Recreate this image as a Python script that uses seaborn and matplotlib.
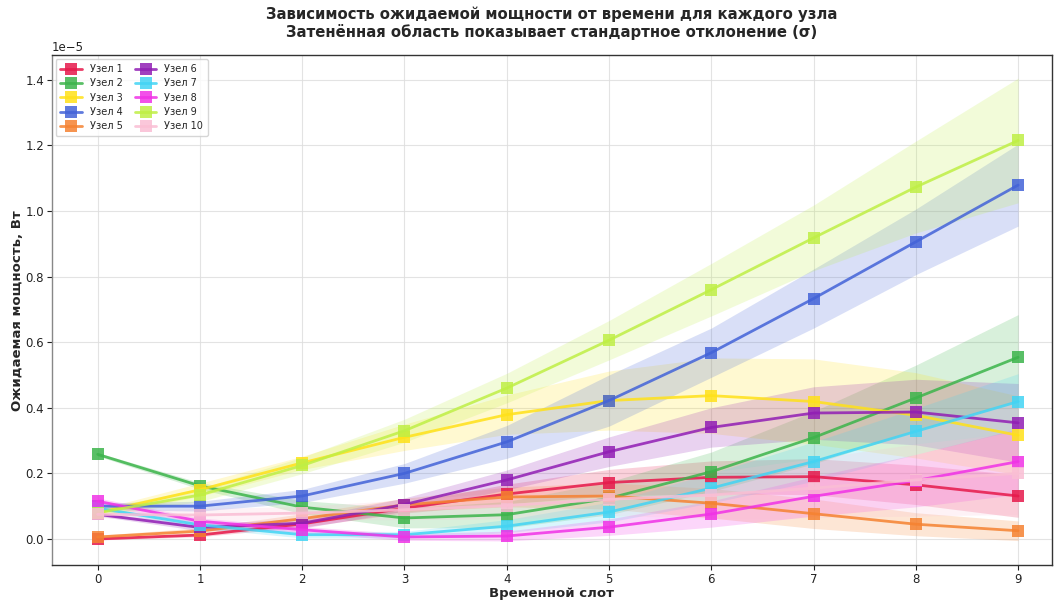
import numpy as np
import pandas as pd
import matplotlib
matplotlib.use("Agg")
import matplotlib.pyplot as plt
import seaborn as sns

# Expected power per node, in units of 1e-5 W, for time slots 0..9
slots = list(range(10))
node_names = [f"Узел {i}" for i in range(1, 11)]

mean_1 = [0.000, 0.012, 0.046, 0.094, 0.137, 0.172, 0.188, 0.190, 0.165, 0.131]
mean_2 = [0.258, 0.162, 0.097, 0.064, 0.074, 0.124, 0.205, 0.309, 0.430, 0.554]
mean_3 = [0.080, 0.150, 0.232, 0.310, 0.379, 0.422, 0.437, 0.419, 0.377, 0.316]
mean_4 = [0.100, 0.100, 0.131, 0.200, 0.296, 0.422, 0.568, 0.733, 0.906, 1.079]
mean_5 = [0.006, 0.024, 0.062, 0.104, 0.128, 0.131, 0.109, 0.077, 0.045, 0.025]
mean_6 = [0.075, 0.035, 0.048, 0.105, 0.180, 0.266, 0.340, 0.384, 0.387, 0.354]
mean_7 = [0.094, 0.043, 0.013, 0.013, 0.039, 0.082, 0.155, 0.236, 0.328, 0.419]
mean_8 = [0.115, 0.054, 0.028, 0.006, 0.009, 0.036, 0.076, 0.130, 0.178, 0.236]
mean_9 = [0.080, 0.134, 0.224, 0.330, 0.460, 0.606, 0.760, 0.918, 1.073, 1.215]
mean_10 = [0.075, 0.073, 0.079, 0.089, 0.102, 0.121, 0.134, 0.155, 0.180, 0.200]

std_1 = [0.003, 0.005, 0.010, 0.015, 0.030, 0.040, 0.050, 0.055, 0.060, 0.065]
std_2 = [0.005, 0.010, 0.020, 0.030, 0.040, 0.050, 0.060, 0.080, 0.100, 0.130]
std_3 = [0.010, 0.020, 0.020, 0.040, 0.060, 0.090, 0.115, 0.130, 0.130, 0.120]
std_4 = [0.010, 0.015, 0.020, 0.030, 0.050, 0.078, 0.075, 0.090, 0.100, 0.125]
std_5 = [0.005, 0.010, 0.015, 0.020, 0.030, 0.040, 0.045, 0.045, 0.035, 0.030]
std_6 = [0.005, 0.010, 0.015, 0.020, 0.030, 0.045, 0.060, 0.080, 0.100, 0.120]
std_7 = [0.005, 0.010, 0.010, 0.010, 0.020, 0.030, 0.045, 0.060, 0.070, 0.085]
std_8 = [0.010, 0.010, 0.010, 0.010, 0.015, 0.025, 0.040, 0.060, 0.080, 0.100]
std_9 = [0.010, 0.020, 0.025, 0.035, 0.045, 0.060, 0.080, 0.100, 0.140, 0.190]
std_10 = [0.010, 0.020, 0.020, 0.030, 0.040, 0.050, 0.070, 0.090, 0.110, 0.125]

means = [mean_1, mean_2, mean_3, mean_4, mean_5, mean_6, mean_7, mean_8, mean_9, mean_10]
stds = [std_1, std_2, std_3, std_4, std_5, std_6, std_7, std_8, std_9, std_10]
UNIT = 1e-5

colors = ["#e6194b", "#3cb44b", "#ffe119", "#4363d8", "#f58231",
          "#911eb4", "#42d4f4", "#f032e6", "#bfef45", "#fabed4"]

rows = []
for name, m, s in zip(node_names, means, stds):
    for t, mv, sv in zip(slots, m, s):
        rows.append({"slot": t, "node": name, "power": mv * UNIT, "sigma": sv * UNIT})
df = pd.DataFrame(rows)

sns.set_style("ticks")
plt.rcParams["font.family"] = ["DejaVu Sans"]

fig = plt.figure(figsize=(10.54, 6.0), dpi=100)
ax = fig.add_axes([0.049, 0.058, 0.949, 0.850])

palette = dict(zip(node_names, colors))
for name in node_names:
    sub = df[df["node"] == name]
    ax.fill_between(sub["slot"], sub["power"] - sub["sigma"], sub["power"] + sub["sigma"],
                    color=palette[name], alpha=0.2, linewidth=0)

sns.lineplot(data=df, x="slot", y="power", hue="node", hue_order=node_names,
             palette=palette, marker="s", markersize=8, markeredgewidth=0,
             linewidth=2, alpha=0.85, errorbar=None, ax=ax)

ax.grid(True, color="#dddddd", linewidth=0.8, alpha=0.8)
ax.set_axisbelow(True)
ax.set_xticks(slots)
ax.set_xlim(-0.45, 9.33)
ax.set_ylim(-0.08e-5, 1.475e-5)
ax.ticklabel_format(axis="y", style="sci", scilimits=(0, 0))
for sp in ax.spines.values():
    sp.set_color("#333333")
    sp.set_linewidth(1.0)
ax.spines["left"].set_color("#888888")
ax.tick_params(labelsize=8.5, colors="#222222", length=3.5, pad=2)
ax.yaxis.get_offset_text().set_fontsize(8.5)

ax.set_xlabel("Временной слот", fontsize=9.5, fontweight="bold", labelpad=1)
ax.set_ylabel("Ожидаемая мощность, Вт", fontsize=9.5, fontweight="bold", labelpad=1)
ax.set_title("Зависимость ожидаемой мощности от времени для каждого узла\n"
             "Затенённая область показывает стандартное отклонение (σ)",
             fontsize=10.7, fontweight="bold", pad=13)

leg = ax.legend(loc="upper left", ncol=2, fontsize=7, frameon=True,
                handlelength=2.2, columnspacing=1.3, borderpad=0.5,
                labelspacing=0.45, borderaxespad=0.4)
leg.get_frame().set_edgecolor("#cccccc")

fig.savefig("out.png", dpi=100)
